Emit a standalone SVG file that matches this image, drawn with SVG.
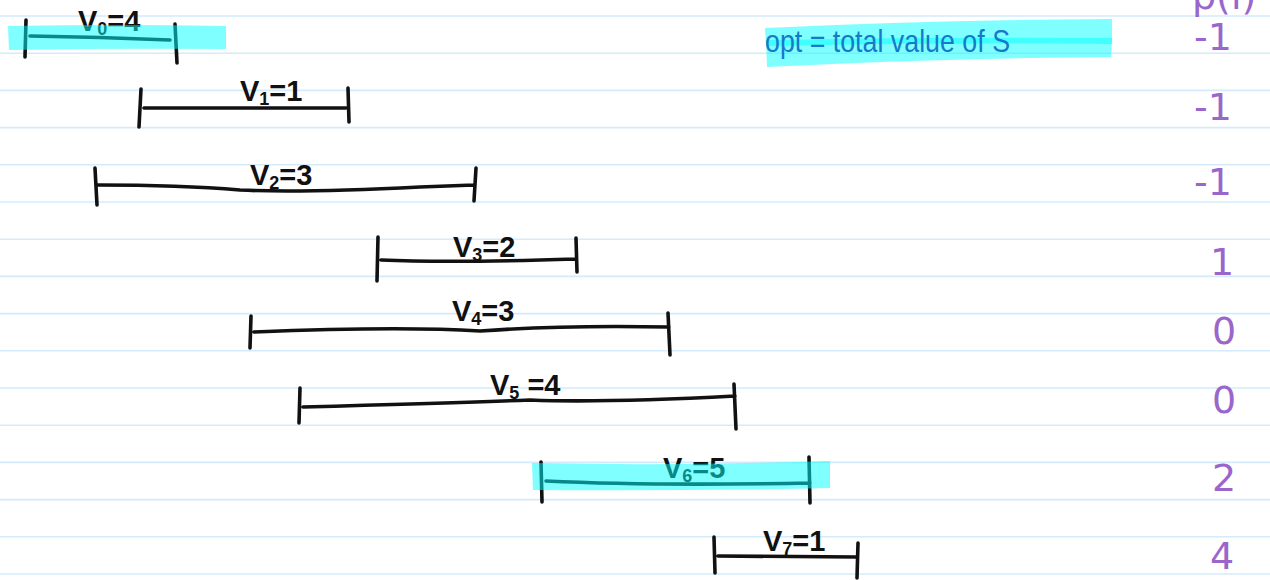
<svg xmlns="http://www.w3.org/2000/svg" width="1270" height="580" viewBox="0 0 1270 580">
  <style>
    .rule { stroke: #d3ebfa; stroke-width: 1.6; }
    .pen { fill: none; stroke: #111; stroke-width: 3.6; stroke-linecap: round; stroke-linejoin: round; }
    .lbl { font-family: "Liberation Sans", "DejaVu Sans", sans-serif; font-size: 29px; font-weight: bold; fill: #111; }
    .sub { font-size: 18px; }
    .pi { font-family: "DejaVu Sans", "Liberation Sans", sans-serif; font-size: 38px; fill: #9a66cc; }
    .note { font-family: "Liberation Sans", "DejaVu Sans", sans-serif; font-size: 32px; fill: #1779c9; }
    .hl { fill: #00ffff; opacity: 0.5; }
  </style>

  <rect width="1270" height="580" fill="#ffffff"/>

  <!-- ruled paper -->
  <g id="paper-rules">
    <line class="rule" x1="0" y1="16" x2="1270" y2="16"/>
    <line class="rule" x1="0" y1="53.2" x2="1270" y2="53.2"/>
    <line class="rule" x1="0" y1="90.4" x2="1270" y2="90.4"/>
    <line class="rule" x1="0" y1="127.6" x2="1270" y2="127.6"/>
    <line class="rule" x1="0" y1="164.8" x2="1270" y2="164.8"/>
    <line class="rule" x1="0" y1="202" x2="1270" y2="202"/>
    <line class="rule" x1="0" y1="239.2" x2="1270" y2="239.2"/>
    <line class="rule" x1="0" y1="276.4" x2="1270" y2="276.4"/>
    <line class="rule" x1="0" y1="313.6" x2="1270" y2="313.6"/>
    <line class="rule" x1="0" y1="350.8" x2="1270" y2="350.8"/>
    <line class="rule" x1="0" y1="388" x2="1270" y2="388"/>
    <line class="rule" x1="0" y1="425.2" x2="1270" y2="425.2"/>
    <line class="rule" x1="0" y1="462.4" x2="1270" y2="462.4"/>
    <line class="rule" x1="0" y1="499.6" x2="1270" y2="499.6"/>
    <line class="rule" x1="0" y1="536.8" x2="1270" y2="536.8"/>
    <line class="rule" x1="0" y1="574" x2="1270" y2="574"/>
  </g>

  <!-- weighted intervals -->
  <g id="interval-0">
    <path class="pen" d="M26,20 L25,57 M30,36 Q100,37 170,40 M175,24 L177,63"/>
    <text class="lbl" x="78" y="31">V<tspan class="sub" dy="4">0</tspan><tspan dy="-4">=4</tspan></text>
  </g>
  <g id="interval-1">
    <path class="pen" d="M141,89 L139,127 M144,108 L346,108 M348,88 L349,122"/>
    <text class="lbl" x="240" y="101">V<tspan class="sub" dy="4">1</tspan><tspan dy="-4">=1</tspan></text>
  </g>
  <g id="interval-2">
    <path class="pen" d="M95,168 L97,205 M98,185 Q180,185 240,190 Q300,193 420,187 L474,185 M476,168 L474,201"/>
    <text class="lbl" x="250" y="185">V<tspan class="sub" dy="4">2</tspan><tspan dy="-4">=3</tspan></text>
  </g>
  <g id="interval-3">
    <path class="pen" d="M378,237 L377,281 M381,260 Q450,263 575,259 M576,238 L577,272"/>
    <text class="lbl" x="453" y="257">V<tspan class="sub" dy="4">3</tspan><tspan dy="-4">=2</tspan></text>
  </g>
  <g id="interval-4">
    <path class="pen" d="M251,316 L250,348 M254,332 Q400,326 480,331 Q560,325 669,327 M668,313 L670,355"/>
    <text class="lbl" x="452" y="321">V<tspan class="sub" dy="4">4</tspan><tspan dy="-4">=3</tspan></text>
  </g>
  <g id="interval-5">
    <path class="pen" d="M300,388 L299,423 M303,407 Q450,403 530,400 Q600,403 735,396 M734,384 L736,429"/>
    <text class="lbl" x="490" y="395">V<tspan class="sub" dy="4">5</tspan><tspan dy="-4"> =4</tspan></text>
  </g>
  <g id="interval-6">
    <path class="pen" d="M541,462 L542,502 M546,481 Q650,486 810,483 M809,457 L810,503"/>
    <text class="lbl" x="663" y="478">V<tspan class="sub" dy="4">6</tspan><tspan dy="-4">=5</tspan></text>
  </g>
  <g id="interval-7">
    <path class="pen" d="M714,537 L715,573 M718,556 L856,557 M858,543 L857,578"/>
    <text class="lbl" x="763" y="551">V<tspan class="sub" dy="4">7</tspan><tspan dy="-4">=1</tspan></text>
  </g>

  <!-- note on the optimum, highlighted underneath -->
  <g id="opt-note">
    <path class="hl" d="M765,28 Q940,20 1112,19 L1112,44 Q940,42 766,46 Z"/>
    <path class="hl" d="M766,40 Q940,37 1112,38 L1111,57 Q940,58 767,67 Z"/>
    <text class="note" x="765" y="52" textLength="245" lengthAdjust="spacingAndGlyphs">opt = total value of S</text>
  </g>

  <!-- p(i) column -->
  <g id="p-column">
    <text class="pi" x="1192" y="9">p(i)</text>
    <text class="pi" x="1194" y="50">-1</text>
    <text class="pi" x="1194" y="120">-1</text>
    <text class="pi" x="1194" y="195">-1</text>
    <text class="pi" x="1210" y="275">1</text>
    <text class="pi" x="1212" y="344">0</text>
    <text class="pi" x="1212" y="413">0</text>
    <text class="pi" x="1212" y="491">2</text>
    <text class="pi" x="1210" y="569">4</text>
  </g>

  <!-- highlighter marks over the chosen intervals -->
  <g id="highlights">
    <path class="hl" d="M8,26 Q120,24 226,26 L226,49 Q120,48 9,50 Z"/>
    <path class="hl" d="M532,463 Q680,466 830,461 L830,488 Q680,491 533,490 Z"/>
  </g>
</svg>
